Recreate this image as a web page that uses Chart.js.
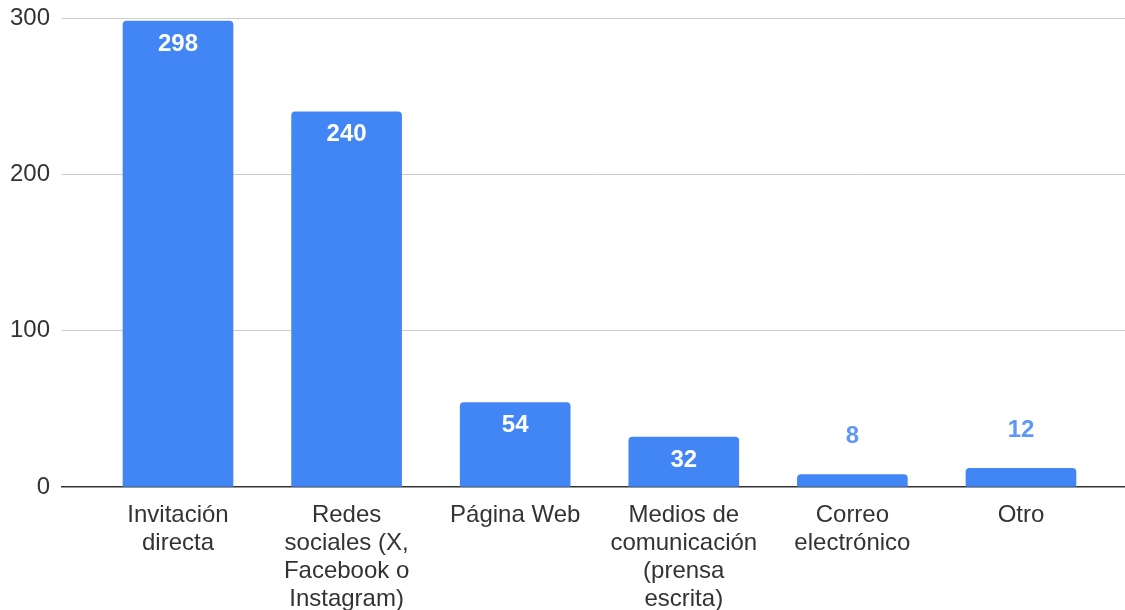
<!DOCTYPE html>
<html>
<head>
<meta charset="utf-8">
<script src="https://cdn.jsdelivr.net/npm/chart.js"></script>
<style>
  body { margin: 0; background: #fff; }
  canvas { display: block; }
</style>
</head>
<body>
<canvas id="chart" width="1125" height="610"></canvas>
<script>
// categories (multi-line tick labels) and values
const categories = [
    ['Invitación', 'directa'],
    ['Redes', 'sociales (X,', 'Facebook o', 'Instagram)'],
    ['Página Web'],
    ['Medios de', 'comunicación', '(prensa', 'escrita)'],
    ['Correo', 'electrónico'],
    ['Otro']
];
const values = [298, 240, 54, 32, 8, 12];
const yTicks = [0, 100, 200, 300];

const BAR_BLUE = '#4285f4';
const FONT = 'Liberation Sans, Arial, sans-serif';

// value labels: inside the top of the bar, or above it when the bar is too short
const valueLabels = {
    id: 'valueLabels',
    afterDatasetsDraw(chart) {
        const ctx = chart.ctx;
        const meta = chart.getDatasetMeta(0);
        ctx.save();
        ctx.font = 'bold 24px ' + FONT;
        ctx.textAlign = 'center';
        ctx.textBaseline = 'middle';
        meta.data.forEach((bar, i) => {
            const h = bar.base - bar.y;
            if (h > 34) {
                ctx.fillStyle = '#ffffff';
                ctx.fillText(values[i], bar.x, bar.y + 23);
            } else {
                ctx.fillStyle = '#5e97f6';
                ctx.fillText(values[i], bar.x, bar.y - 38);
            }
        });
        ctx.restore();
    }
};

new Chart(document.getElementById('chart'), {
    type: 'bar',
    data: {
        datasets: [{
            data: values.map((v, i) => ({ x: i, y: v })),
            backgroundColor: BAR_BLUE,
            borderRadius: { topLeft: 4, topRight: 4, bottomLeft: 0, bottomRight: 0 },
            borderSkipped: 'start',
            barThickness: 110
        }]
    },
    options: {
        responsive: false,
        animation: false,
        devicePixelRatio: 1,
        layout: { padding: { top: 18, right: 0, left: 0, bottom: 0 } },
        plugins: {
            legend: { display: false },
            tooltip: { enabled: false }
        },
        scales: {
            x: {
                type: 'linear',
                min: -0.688,
                max: 5.617,
                offset: false,
                z: 1,
                grid: { display: false, drawTicks: false, offset: false },
                border: { display: true, color: '#333', width: 1.5 },
                afterFit: s => { s.height = 123; s.paddingLeft = 0; s.paddingRight = 0; },
                ticks: {
                    stepSize: 1,
                    includeBounds: false,
                    autoSkip: false,
                    maxRotation: 0,
                    padding: 14,
                    color: '#333',
                    font: { family: FONT, size: 24, lineHeight: 1.17 },
                    callback: v => (Number.isInteger(v) && categories[v]) ? categories[v] : ''
                }
            },
            y: {
                min: 0,
                max: 300,
                afterFit: s => { s.width = 62; s.paddingTop = 0; s.paddingBottom = 0; },
                afterBuildTicks: s => { s.ticks = yTicks.map(v => ({ value: v })); },
                grid: {
                    drawTicks: false,
                    color: c => c.tick && c.tick.value === 0 ? 'rgba(0,0,0,0)' : '#cccccc',
                    lineWidth: 1
                },
                border: { display: false },
                ticks: {
                    padding: 12,
                    color: '#333',
                    font: { family: FONT, size: 24 }
                }
            }
        }
    },
    plugins: [valueLabels]
});
</script>
</body>
</html>
